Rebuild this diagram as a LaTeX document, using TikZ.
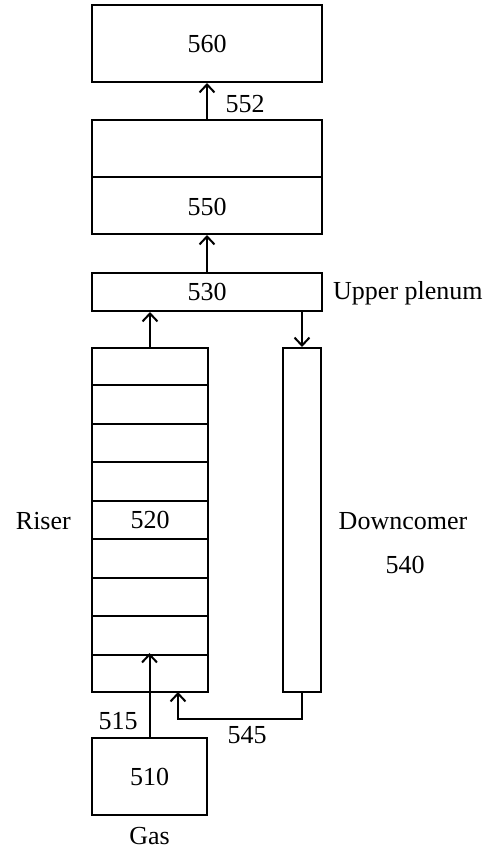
\documentclass[tikz,border=0pt]{standalone}
\usepackage{fontspec}
\setmainfont{Liberation Serif}
\usetikzlibrary{arrows.meta,calc}
\begin{document}
\begin{tikzpicture}[x=1pt,y=-1pt,
  box/.style={draw,line width=2pt,inner sep=0pt,minimum width=#1},
  divider/.style={draw,line width=2pt},
  arr/.style={draw,line width=2pt,-{Straight Barb[length=8pt,width=15pt,line width=2pt]}},
  lbl/.style={inner sep=0pt,font=\fontsize{26}{30}\selectfont},
  every node/.append style={font=\fontsize{26}{30}\selectfont}]
\useasboundingbox (0,0) rectangle (496,849);
% boxes
\node[box=230pt,minimum height=77pt] (b560) at (207,43.5) {560};
\node[box=230pt,minimum height=114pt] (b550) at (207,177) {};
\draw[divider] (b550.west) -- (b550.east);
\node[lbl] (t550) at (207,207) {550};
\node[box=230pt,minimum height=38pt] (b530) at (207,292) {530};
\node[box=116pt,minimum height=344pt] (riser) at (150,520) {520};
\foreach \k in {1,...,8}{
  \draw[divider] ($(riser.north west)!\k/9!(riser.south west)$) -- ($(riser.north east)!\k/9!(riser.south east)$);
}
\node[box=38pt,minimum height=344pt] (down) at (302,520) {};
\node[box=115pt,minimum height=77pt] (b510) at (149.5,776.5) {510};
% coordinates
\coordinate (c515) at (149.5,653);
\coordinate (r545) at (178,692);
\coordinate (k545) at (302,719);
% connectors
\draw[arr] (b550.north) -- (b560.south);
\draw[arr] (b530.north) -- (b550.south);
\draw[arr] (riser.north) -- (riser.north |- b530.south);
\draw[arr] (down.north |- b530.south) -- (down.north);
\draw[arr] (down.south) -- (k545) -| (r545);
\draw[arr] (b510.north) -- (c515);
% labels
\node[lbl] (l552) at (245,104) {552};
\node[lbl,anchor=west] (lup) at (333,293) {Upper plenum};
\node[lbl,anchor=east] (lriser) at (71,521) {Riser};
\node[lbl] (ldown) at (403,521) {Downcomer};
\node[lbl] (l540) at (405,565) {540};
\node[lbl] (l515) at (118,721) {515};
\node[lbl] (l545) at (247,735) {545};
\node[lbl] (lgas) at (149.5,836) {Gas};
\end{tikzpicture}
\end{document}
